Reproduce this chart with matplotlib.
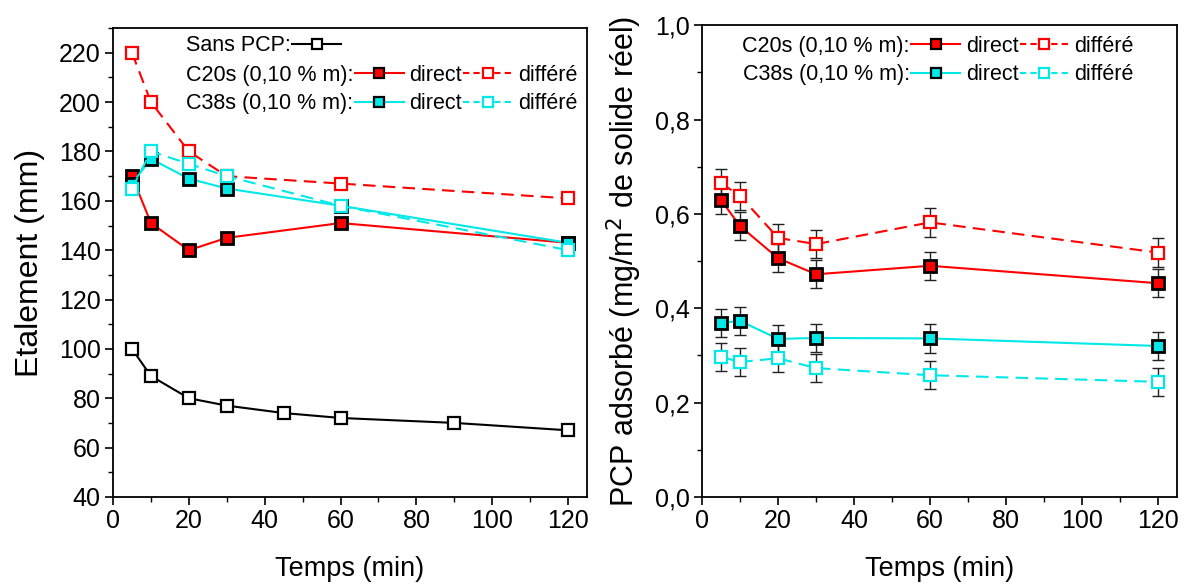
import matplotlib
matplotlib.use("Agg")
import matplotlib.pyplot as plt
from matplotlib.lines import Line2D
from matplotlib.ticker import MultipleLocator, FuncFormatter

plt.rcParams['font.family'] = ['Liberation Sans', 'DejaVu Sans']

# ---------------- data ----------------
t_sans = [5, 10, 20, 30, 45, 60, 90, 120]
etal_sans = [100, 89, 80, 77, 74, 72, 70, 67]

t = [5, 10, 20, 30, 60, 120]
etal_c20_direct = [170, 151, 140, 145, 151, 143]
etal_c20_diff = [220, 200, 180, 170, 167, 161]
etal_c38_direct = [167, 177, 169, 165, 158, 143]
etal_c38_diff = [165, 180, 175, 170, 158, 140]
etal_err = 2

ads_c20_direct = [0.629, 0.574, 0.506, 0.472, 0.490, 0.453]
ads_c20_diff = [0.665, 0.638, 0.549, 0.536, 0.582, 0.518]
ads_c38_direct = [0.369, 0.373, 0.335, 0.337, 0.336, 0.320]
ads_c38_diff = [0.297, 0.286, 0.294, 0.273, 0.258, 0.244]
ads_err = 0.03

RED = '#ff0000'
CYAN = '#00e8e8'
DASH = (0, (6, 3.5))

fig = plt.figure(figsize=(11.86, 5.86), dpi=100)
ax1 = fig.add_axes([0.0953, 0.152, 0.3997, 0.800])
ax2 = fig.add_axes([0.592, 0.152, 0.4005, 0.805])

ms = 8.5
lw = 1.5


def series(ax, x, y, err, color, filled, dashed, edge=None):
    ax.errorbar(x, y, yerr=err, fmt='none', ecolor='#222222', elinewidth=1.0,
                capsize=4, capthick=1.0, zorder=2)
    line, = ax.plot(x, y, color=color, lw=lw, ls=DASH if dashed else '-',
                    marker='s', ms=ms,
                    mfc=color if filled else 'white',
                    mec=edge if edge else ('black' if filled else color),
                    mew=2.0 if filled else 1.6, zorder=3)
    return line


# ---------- left panel ----------
series(ax1, t_sans, etal_sans, etal_err, 'black', False, False, edge='black')
series(ax1, t, etal_c20_direct, etal_err, RED, True, False)
series(ax1, t, etal_c20_diff, etal_err, RED, False, True)
series(ax1, t, etal_c38_direct, etal_err, CYAN, True, False)
series(ax1, t, etal_c38_diff, etal_err, CYAN, False, True)

ax1.set_xlim(0, 125)
ax1.set_ylim(40, 230)
ax1.xaxis.set_major_locator(MultipleLocator(20))
ax1.xaxis.set_minor_locator(MultipleLocator(10))
ax1.yaxis.set_major_locator(MultipleLocator(20))
ax1.yaxis.set_minor_locator(MultipleLocator(10))
ax1.set_ylabel('Etalement (mm)', fontsize=23, labelpad=10)
ax1.set_xlabel('Temps (min)', fontsize=19.5, labelpad=16)

# ---------- right panel ----------
series(ax2, t, ads_c20_direct, ads_err, RED, True, False)
series(ax2, t, ads_c20_diff, ads_err, RED, False, True)
series(ax2, t, ads_c38_direct, ads_err, CYAN, True, False)
series(ax2, t, ads_c38_diff, ads_err, CYAN, False, True)

ax2.set_xlim(0, 125)
ax2.set_ylim(0, 1.0)
ax2.xaxis.set_major_locator(MultipleLocator(20))
ax2.xaxis.set_minor_locator(MultipleLocator(10))
ax2.yaxis.set_major_locator(MultipleLocator(0.2))
ax2.yaxis.set_minor_locator(MultipleLocator(0.1))
ax2.yaxis.set_major_formatter(FuncFormatter(lambda v, p: f'{v:.1f}'.replace('.', ',')))
ax2.set_ylabel('PCP adsorbé (mg/m$^2$ de solide réel)', fontsize=22, labelpad=8)
ax2.set_xlabel('Temps (min)', fontsize=19.5, labelpad=16)

for ax in (ax1, ax2):
    ax.tick_params(which='major', direction='out', length=6, width=1.2,
                   labelsize=18, top=False, right=False, pad=3)
    ax.tick_params(which='minor', direction='out', length=3.5, width=1.0,
                   top=False, right=False)
    for s in ax.spines.values():
        s.set_linewidth(1.3)


def handle(color, filled, dashed):
    return Line2D([], [], color=color, lw=lw, ls=(0, (3, 2)) if dashed else '-',
                  marker='s', ms=7.5, mfc=color if filled else 'white',
                  mec='black' if filled else color, mew=1.6)


blank = Line2D([], [], ls='none', marker='none')
leg_kw = dict(markerfirst=False, frameon=False, fontsize=15.5, handlelength=2.3,
              handletextpad=0.05, columnspacing=0.25, labelspacing=0.36,
              borderpad=0.0, borderaxespad=0.0)

# left legend: "Sans PCP" row
leg0 = ax1.legend([handle('black', False, False)], ['Sans PCP:'], ncol=1,
                  loc='upper left', bbox_to_anchor=(0.154, 0.985), **leg_kw)
ax1.add_artist(leg0)

hs = [handle(RED, True, False), handle(CYAN, True, False),
      handle(RED, False, True), handle(CYAN, False, True),
      blank, blank]
ls = ['C20s (0,10 % m):', 'C38s (0,10 % m):',
      'direct', 'direct',
      'différé', 'différé']
ax1.legend(hs, ls, ncol=3, loc='upper left', bbox_to_anchor=(0.154, 0.922), **leg_kw)

ax2.legend(hs, ls, ncol=3, loc='upper center', bbox_to_anchor=(0.55, 0.978), **leg_kw)

fig.savefig('out.png', dpi=100)
